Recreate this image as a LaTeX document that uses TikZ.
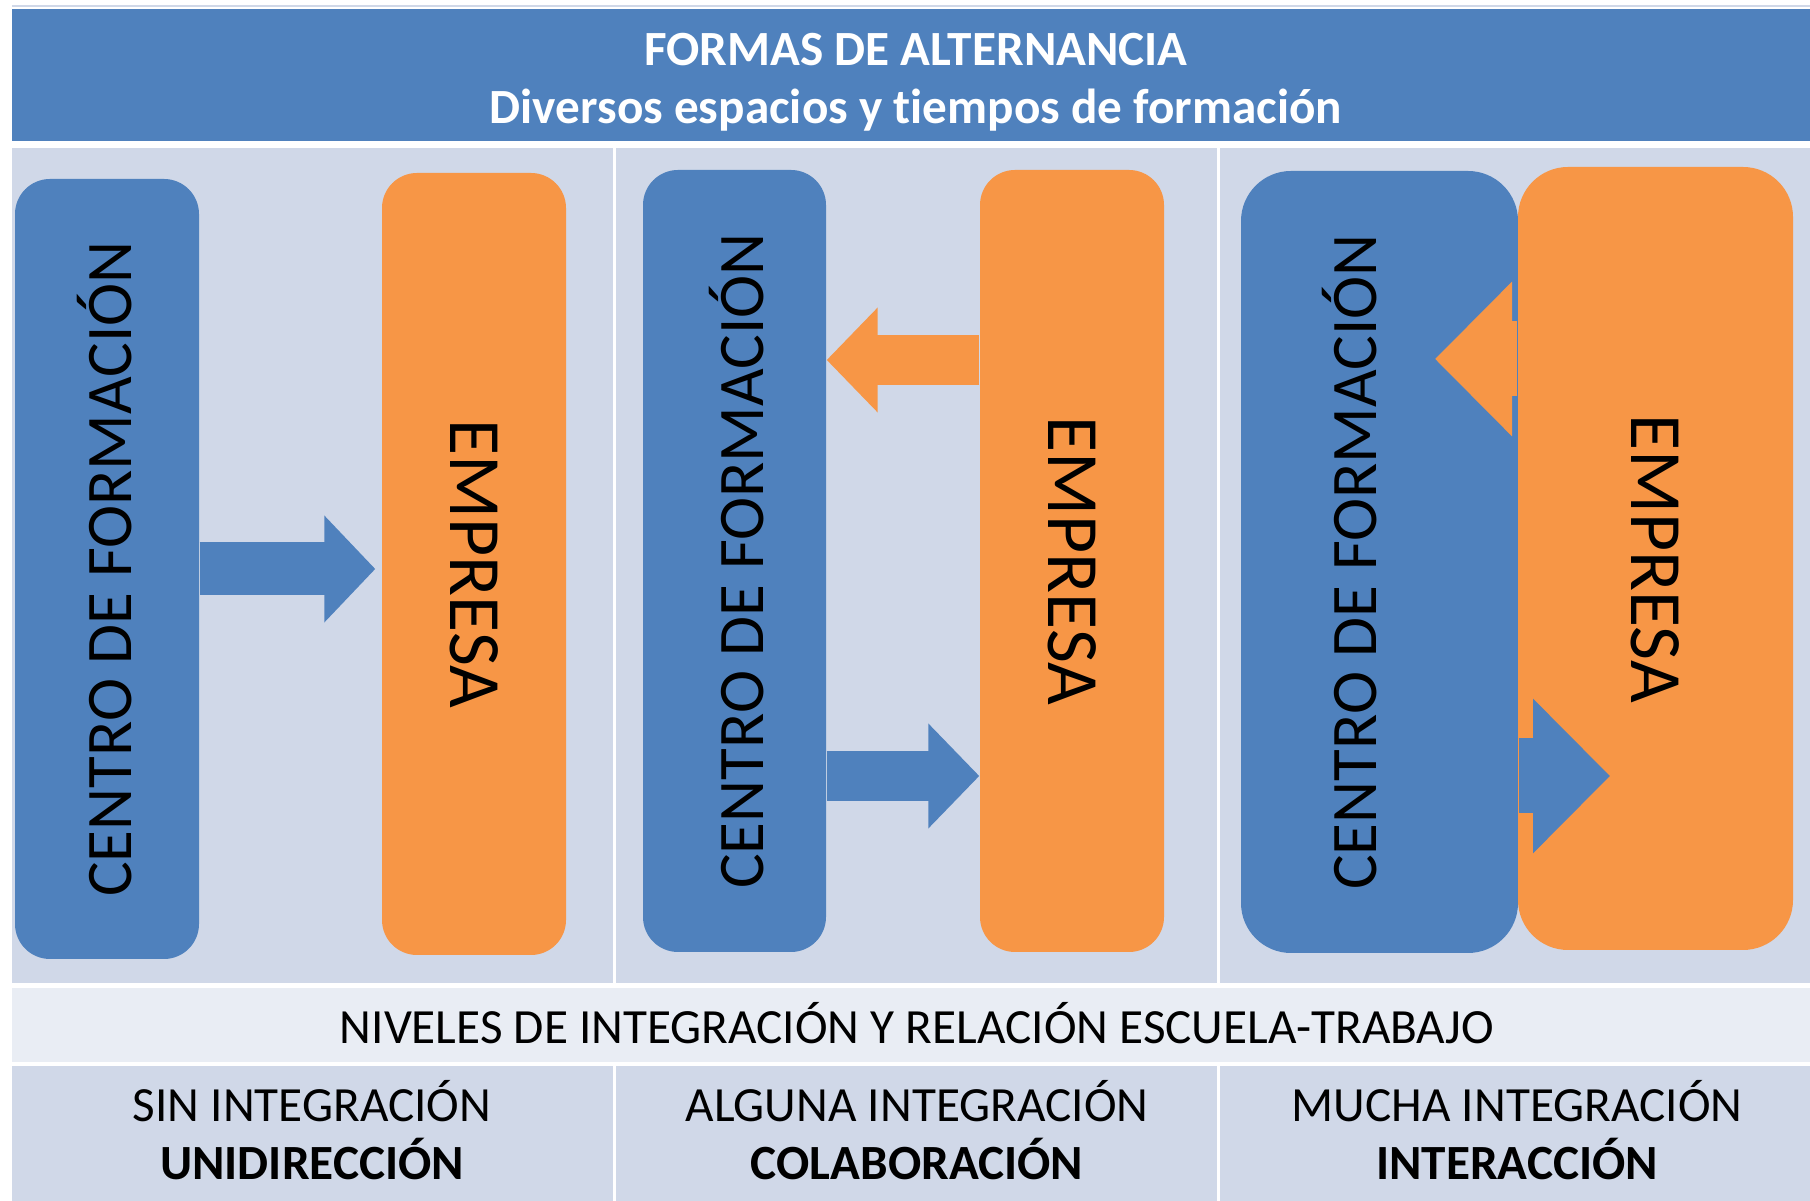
\documentclass[tikz,border=0pt]{standalone}
\usepackage{fontspec}
\setmainfont{Carlito}[Ligatures=NoCommon]
\usetikzlibrary{arrows.meta,positioning}

\definecolor{hdrblue}{HTML}{4F81BD}
\definecolor{cellgray}{HTML}{D0D8E8}
\definecolor{bandgray}{HTML}{E9EDF4}
\definecolor{emporange}{HTML}{F79646}

\tikzset{
  centro/.style={fill=hdrblue, rounded corners=0.35cm, inner sep=0pt,
    minimum width=1.84cm, minimum height=7.80cm},
  empresa/.style={fill=emporange, rounded corners=0.35cm, inner sep=0pt,
    minimum width=1.84cm, minimum height=7.82cm},
  centrotext/.style={rotate=90, font=\fontsize{18.5}{22}\selectfont},
  empresatext/.style={rotate=-90, font=\fontsize{21}{24}\selectfont},
  level/.style={align=center, font=\fontsize{14}{16.3}\selectfont},
  flow/.style={line width=#1},
}

\begin{document}
\begin{tikzpicture}
  \useasboundingbox[fill=white] (0,0) rectangle (18.10,12.01);
  % header
  \draw[cellgray, line width=0.4pt] (0.12,11.95) -- (18.10,11.95);
  \fill[hdrblue] (0.12,10.60) rectangle (18.10,11.92);
  \node[align=center, text=white, font=\fontsize{14}{16.5}\selectfont\bfseries]
    (title) at (9.16,11.19) {FORMAS DE ALTERNANCIA\\Diversos espacios y tiempos de formación};
  % cells
  \foreach \xa/\xb in {0.12/6.13, 6.16/12.17, 12.20/18.10} {
    \fill[cellgray] (\xa,2.18) rectangle (\xb,10.53);
    \fill[cellgray] (\xa,0) rectangle (\xb,1.35);
  }
  \fill[bandgray] (0.12,1.39) rectangle (18.10,2.13);
  \node[level] (niveles) at (9.17,1.78) {NIVELES DE INTEGRACIÓN Y RELACIÓN ESCUELA-TRABAJO};

  % sin integracion
  \node[centro] (blue1) at (1.07,6.32) {};
  \node[empresa] (orange1) at (4.74,6.37) {};
  \node[centrotext] at ([xshift=-0.02cm]blue1.center) {CENTRO DE FORMACIÓN};
  \node[empresatext] at (orange1.center) {EMPRESA};
  \draw[flow=0.53cm, hdrblue, shorten >=0.06cm, -{Triangle[length=0.51cm,width=1.04cm]}]
    (blue1.east) -- (blue1.east -| orange1.west);

  % alguna integracion
  \node[centro, minimum width=1.83cm, minimum height=7.82cm] (blue2) at (7.345,6.40) {};
  \node[empresa] (orange2) at (10.72,6.40) {};
  \node[centrotext] at ([xshift=0.02cm]blue2.center) {CENTRO DE FORMACIÓN};
  \node[empresatext] at (orange2.center) {EMPRESA};
  \draw[flow=0.50cm, emporange, -{Triangle[length=0.51cm,width=1.02cm]}]
    ([yshift=2.01cm]orange2.west) -- ([yshift=2.01cm]orange2.west -| blue2.east);
  \draw[flow=0.50cm, hdrblue, -{Triangle[length=0.51cm,width=1.02cm]}]
    ([yshift=-2.15cm]blue2.east) -- ([yshift=-2.15cm]blue2.east -| orange2.west);

  % mucha integracion
  \node[centro, rounded corners=0.5cm, minimum width=2.77cm, minimum height=7.82cm]
    (blue3) at (13.795,6.39) {};
  \node[empresa, rounded corners=0.5cm, minimum width=2.75cm, minimum height=7.83cm]
    (orange3) at (16.555,6.425) {};
  \node[centrotext] at ([xshift=-0.30cm]blue3.center) {CENTRO DE FORMACIÓN};
  \node[empresatext] at (orange3.center) {EMPRESA};
  \coordinate (tipleft) at (14.35,8.42);
  \coordinate (tipright) at (16.10,4.25);
  \draw[flow=0.75cm, emporange, -{Triangle[length=0.77cm,width=1.50cm]}]
    (orange3.west |- tipleft) -- (tipleft);
  \draw[flow=0.75cm, hdrblue, -{Triangle[length=0.77cm,width=1.50cm]}]
    (blue3.east |- tipright) -- (tipright);

  % niveles
  \node[level] (lvl1) at (3.12,0.71) {SIN INTEGRACIÓN\\\textbf{UNIDIRECCIÓN}};
  \node[level] (lvl2) at (9.17,0.71) {ALGUNA INTEGRACIÓN\\\textbf{COLABORACIÓN}};
  \node[level] (lvl3) at (15.17,0.71) {MUCHA INTEGRACIÓN\\\textbf{INTERACCIÓN}};
\end{tikzpicture}
\end{document}
